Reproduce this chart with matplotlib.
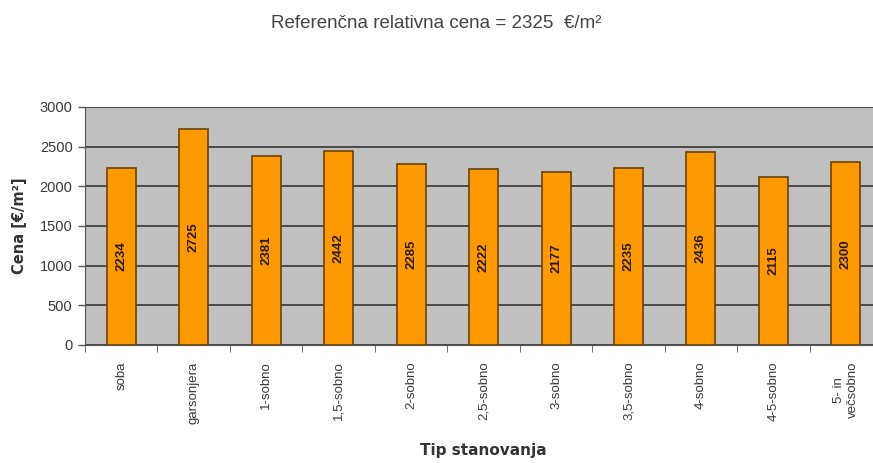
import matplotlib.pyplot as plt
import numpy as np

tipi = ['soba', 'garsonjera', '1-sobno', '1,5-sobno', '2-sobno', '2,5-sobno',
        '3-sobno', '3,5-sobno', '4-sobno', '4-5-sobno', '5- in\nvečsobno']
cene = [2234, 2725, 2381, 2442, 2285, 2222, 2177, 2235, 2436, 2115, 2300]
y_ticks = [0, 500, 1000, 1500, 2000, 2500, 3000]

plt.rcParams['font.family'] = ['Liberation Sans', 'DejaVu Sans']

fig = plt.figure(figsize=(8.73, 4.63), dpi=100)
ax = fig.add_axes([0.0974, 0.2549, 0.913, 0.5141])

x = np.arange(len(tipi))
ax.bar(x, cene, width=0.4, color='#ff9900', edgecolor='#6b4300', linewidth=1.2, zorder=3)

# values written inside each bar, rotated
for xi, v in zip(x, cene):
    ax.text(xi, v / 2, str(v), rotation=90, ha='center', va='center',
            fontsize=9.5, fontweight='bold', color='#2a1a00', zorder=4)

ax.set_facecolor('#c0c0c0')
ax.set_xlim(-0.5, len(tipi) - 0.5)
ax.set_ylim(0, 3000)
ax.set_yticks(y_ticks)
ax.set_yticklabels([str(t) for t in y_ticks], fontsize=10.5, color='#3a3a3a')
ax.yaxis.grid(True, color='#4a4a4a', linewidth=1.4, zorder=0)
ax.set_axisbelow(True)

ax.set_xticks(x)
ax.set_xticklabels(tipi, rotation=90, fontsize=9.5, color='#3a3a3a', va='top', ha='center')
ax.tick_params(axis='x', length=0, pad=12)
ax.set_xticks(np.arange(-0.5, len(tipi), 1), minor=True)
ax.tick_params(axis='x', which='minor', length=5, color='#555555')
ax.tick_params(axis='y', length=5, color='#555555', width=1, pad=4)

for side in ['top', 'right']:
    ax.spines[side].set_visible(False)
ax.spines['left'].set_color('#555555')
ax.spines['bottom'].set_color('#555555')

ax.set_ylabel('Cena [€/m²]', fontsize=10.5, fontweight='bold', color='#333333',
              family=['DejaVu Sans'], labelpad=9)
ax.set_xlabel('Tip stanovanja', fontsize=11, fontweight='bold', color='#333333',
              family=['DejaVu Sans'], labelpad=14)

fig.text(0.5, 0.95, 'Referenčna relativna cena = 2325  €/m²', ha='center', va='center',
         fontsize=13.5, color='#444444')

fig.savefig('out.png', dpi=100)
